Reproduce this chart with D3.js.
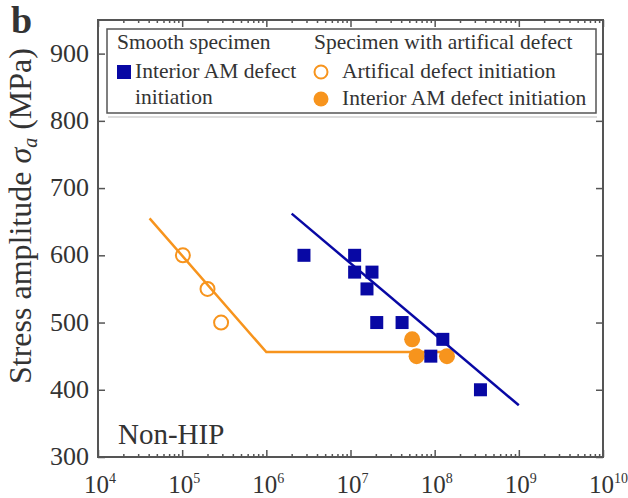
<!DOCTYPE html>
<html>
<head>
<meta charset="utf-8">
<script src="https://cdn.jsdelivr.net/npm/d3@7"></script>
<style>
	body { margin: 0; background: #fff; }
	svg { display: block; }
	text { font-family: "Liberation Serif", "Times New Roman", serif; fill: #333; }
</style>
</head>
<body>
<svg width="628" height="498"></svg>
<script>
// smooth specimen, interior AM defect initiation
const smoothCycles = [2.8e6, 1.12e7, 1.12e7, 1.8e7, 1.57e7, 2.05e7, 4.1e7, 1.25e8, 9e7, 3.5e8];
const smoothStress = [600, 600, 575, 575, 550, 500, 500, 475, 450, 400];
// specimen with artificial defect
const artCycles = [1.02e5, 2.0e5, 2.9e5];
const artStress = [600, 550, 500];
const amCycles = [5.4e7, 6.1e7, 1.4e8];
const amStress = [475, 450, 450];
// fit lines
const smoothFitCycles = [2e6, 1e9];
const smoothFitStress = [662, 377];
const defectFitCycles = [4.1e4, 1e6, 1.5e8];
const defectFitStress = [655, 456, 456];
// ticks
const xExponents = [4, 5, 6, 7, 8, 9, 10];
const yTicks = [300, 400, 500, 600, 700, 800, 900];

const blue = "#0808a4";
const orange = "#f7941d";
const axisColor = "#555";

const svg = d3.select("svg");
const margin = {top: 20, right: 25, bottom: 41, left: 98};
const width = 628 - margin.left - margin.right;
const height = 498 - margin.top - margin.bottom;

const x = d3.scaleLog().domain([1e4, 1e10]).range([0, width]);
const y = d3.scaleLinear().domain([300, 950]).range([height, 0]);

const g = svg.append("g").attr("transform", `translate(${margin.left},${margin.top})`);

const xMajor = xExponents.map(e => Math.pow(10, e));
const xMinor = [];
xExponents.slice(0, -1).forEach(e => {
	for (let k = 2; k <= 9; k++) xMinor.push(k * Math.pow(10, e));
});

function styleAxis(sel) {
	sel.select(".domain").remove();
	sel.selectAll("line").attr("stroke", axisColor).attr("stroke-width", 1.5);
}

// ticks (inward)
g.append("g").attr("transform", `translate(0,${height})`)
	.call(d3.axisBottom(x).tickValues(xMajor).tickSize(-7).tickFormat("")).call(styleAxis);
g.append("g").attr("transform", `translate(0,${height})`)
	.call(d3.axisBottom(x).tickValues(xMinor).tickSize(-3).tickFormat("")).call(styleAxis);
g.append("g")
	.call(d3.axisTop(x).tickValues(xMajor).tickSize(-7).tickFormat("")).call(styleAxis);
g.append("g")
	.call(d3.axisTop(x).tickValues(xMinor).tickSize(-3).tickFormat("")).call(styleAxis);
g.append("g")
	.call(d3.axisLeft(y).tickValues(yTicks).tickSize(-7).tickFormat("")).call(styleAxis);
g.append("g").attr("transform", `translate(${width},0)`)
	.call(d3.axisRight(y).tickValues(yTicks).tickSize(-7).tickFormat("")).call(styleAxis);

// frame
g.append("rect")
	.attr("width", width).attr("height", height)
	.attr("fill", "none").attr("stroke", axisColor).attr("stroke-width", 2);

// y tick labels
g.selectAll(".ylab").data(yTicks).join("text")
	.attr("class", "ylab")
	.attr("x", -9).attr("y", d => y(d) + 8)
	.attr("text-anchor", "end")
	.attr("font-size", 26)
	.text(d => d);

// x tick labels with superscript
const xl = g.selectAll(".xlab").data(xExponents).join("text")
	.attr("class", "xlab")
	.attr("x", d => x(Math.pow(10, d)) - 14)
	.attr("y", height + 36)
	.attr("font-size", 25);
xl.append("tspan").text("10");
xl.append("tspan").attr("font-size", 14).attr("dy", -10).text(d => d);

// axis title
svg.append("text")
	.attr("transform", "translate(31,216) rotate(-90)")
	.attr("text-anchor", "middle")
	.attr("font-size", 32)
	.call(t => {
		t.append("tspan").text("Stress amplitude ");
		t.append("tspan").attr("font-style", "italic").text("σ");
		t.append("tspan").attr("font-style", "italic").attr("font-size", 20).attr("dy", 6).text("a");
		t.append("tspan").attr("dy", -6).text(" (MPa)");
	});

// panel letter
svg.append("text")
	.attr("x", 11).attr("y", 33)
	.attr("font-size", 38).attr("font-weight", "bold")
	.attr("fill", "#111")
	.text("b");

// orange filled points sit under the lines and squares
g.selectAll(".am").data(amCycles.map((c, i) => [c, amStress[i]])).join("circle")
	.attr("class", "am")
	.attr("cx", d => x(d[0])).attr("cy", d => y(d[1])).attr("r", 8)
	.attr("fill", orange);

// fit lines
const line = d3.line().x(d => x(d[0])).y(d => y(d[1]));
g.append("path")
	.datum(defectFitCycles.map((c, i) => [c, defectFitStress[i]]))
	.attr("fill", "none").attr("stroke", orange).attr("stroke-width", 2.5)
	.attr("d", line);
g.append("path")
	.datum(smoothFitCycles.map((c, i) => [c, smoothFitStress[i]]))
	.attr("fill", "none").attr("stroke", blue).attr("stroke-width", 2.5)
	.attr("d", line);

// points
const sq = 13;
g.selectAll(".sq").data(smoothCycles.map((c, i) => [c, smoothStress[i]])).join("rect")
	.attr("class", "sq")
	.attr("x", d => x(d[0]) - sq / 2).attr("y", d => y(d[1]) - sq / 2)
	.attr("width", sq).attr("height", sq)
	.attr("fill", blue);

g.selectAll(".art").data(artCycles.map((c, i) => [c, artStress[i]])).join("circle")
	.attr("class", "art")
	.attr("cx", d => x(d[0])).attr("cy", d => y(d[1])).attr("r", 7)
	.attr("fill", "none").attr("stroke", orange).attr("stroke-width", 2);

// Non-HIP label
g.append("text")
	.attr("x", 20).attr("y", height - 13)
	.attr("font-size", 29)
	.text("Non-HIP");

// legend
const lg = svg.append("g");
lg.append("line")
	.attr("x1", 108).attr("x2", 597).attr("y1", 117).attr("y2", 117)
	.attr("stroke", "#bbb").attr("stroke-width", 1.2);
lg.append("rect")
	.attr("x", 107).attr("y", 29).attr("width", 489).attr("height", 84)
	.attr("fill", "#fff").attr("stroke", axisColor).attr("stroke-width", 1.5);

const legendText = [
	{x: 117, y: 49, t: "Smooth specimen"},
	{x: 135, y: 78, t: "Interior AM defect"},
	{x: 135, y: 104, t: "initiation"},
	{x: 314, y: 49, t: "Specimen with artifical defect"},
	{x: 342, y: 78, t: "Artifical defect initiation"},
	{x: 342, y: 105, t: "Interior AM defect initiation"}
];
lg.selectAll(".lt").data(legendText).join("text")
	.attr("class", "lt")
	.attr("x", d => d.x).attr("y", d => d.y)
	.attr("font-size", 21.5)
	.text(d => d.t);

lg.append("rect").attr("x", 117).attr("y", 65).attr("width", 14).attr("height", 14).attr("fill", blue);
lg.append("circle").attr("cx", 321).attr("cy", 72).attr("r", 6.5)
	.attr("fill", "none").attr("stroke", orange).attr("stroke-width", 2);
lg.append("circle").attr("cx", 321).attr("cy", 99).attr("r", 7.5).attr("fill", orange);
</script>
</body>
</html>
